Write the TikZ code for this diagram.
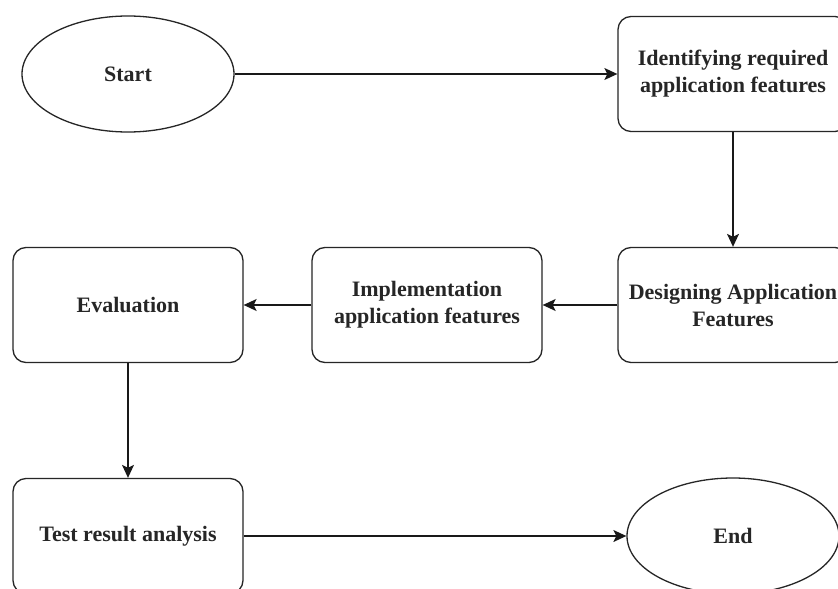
\documentclass[tikz,border=0pt]{standalone}
\usepackage{fontspec}
\setmainfont{Liberation Serif}
\usetikzlibrary{arrows.meta,shapes.geometric}
\begin{document}
\begin{tikzpicture}[x=1pt,y=-1pt,
  every node/.style={font=\fontsize{22}{27}\selectfont\bfseries, text=black!85, align=center, line width=1.3pt, draw=black!85},
  stepbox/.style={rectangle, rounded corners=13pt, minimum width=230pt, minimum height=115pt, inner sep=2pt},
  termbox/.style={ellipse, minimum width=212pt, minimum height=116pt, inner sep=0pt},
  conn/.style={line width=1.3pt, draw=black!90, -{Stealth[length=13pt,width=12pt,inset=3pt]}}
]
\clip (0,0) rectangle (838,589);
\fill[white] (0,0) rectangle (838,589);
\node[termbox] (start) at (128,74) {Start};
\node[stepbox] (ident) at (733,74) {Identifying required\\application features};
\node[stepbox] (design) at (733,305) {Designing Application\\Features};
\node[stepbox] (impl) at (427,305) {Implementation\\application features};
\node[stepbox] (eval) at (128,305) {Evaluation};
\node[stepbox] (test) at (128,536) {Test result analysis};
\node[termbox] (end) at (733,536) {End};
\draw[conn] (start) -- (ident);
\draw[conn] (ident) -- (design);
\draw[conn] (design) -- (impl);
\draw[conn] (impl) -- (eval);
\draw[conn] (eval) -- (test);
\draw[conn] (test) -- (end);
\end{tikzpicture}
\end{document}
